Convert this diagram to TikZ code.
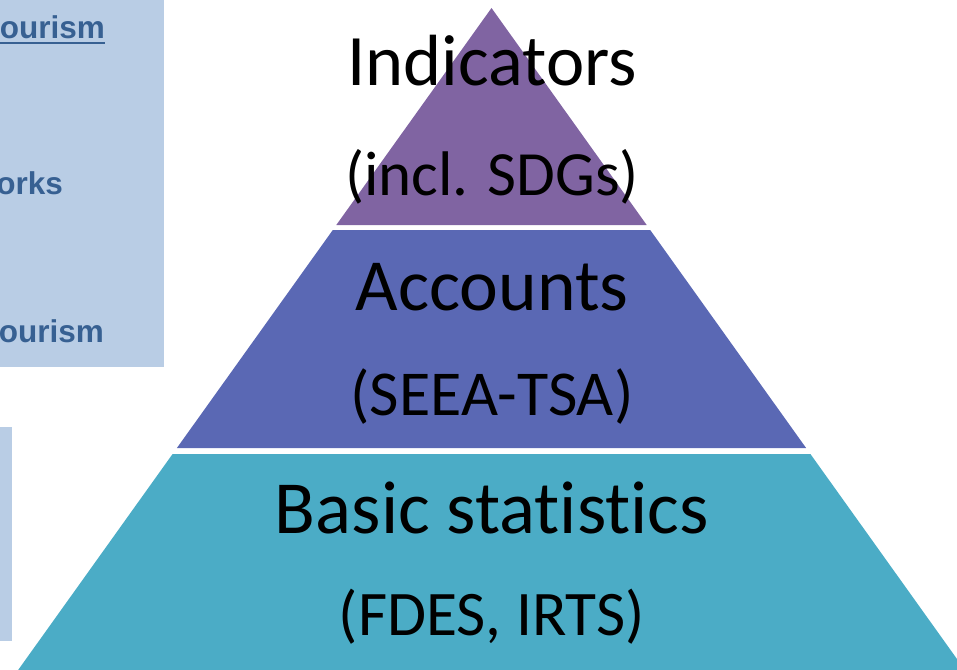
\documentclass[tikz,border=0pt]{standalone}
\usepackage{fontspec}
\setmainfont{Carlito}[Ligatures=CommonOff,RawFeature={-liga;-clig;-dlig}]
\newfontfamily\arialfont{Liberation Sans}
\definecolor{lightbox}{HTML}{B9CDE5}
\definecolor{boxtext}{HTML}{376092}
\definecolor{tierA}{HTML}{8064A2}
\definecolor{tierB}{HTML}{5A68B4}
\definecolor{tierC}{HTML}{4BACC6}
\tikzset{
  sidetext/.style={inner sep=0pt, anchor=base east, text=boxtext, font=\arialfont\bfseries\fontsize{31.5}{31.5}\selectfont},
  headtext/.style={inner sep=0pt, anchor=base, text=black},
}
\begin{document}
\begin{tikzpicture}[x=1pt,y=-1pt]
\useasboundingbox (0,0) rectangle (957,669);
\clip (0,0) rectangle (957,669);
% side panels
\fill[lightbox] (0,0) rectangle (164,367);
\fill[lightbox] (0,427) rectangle (12,641);
\node[sidetext] (s1) at (105,39) {ourism};
\draw[boxtext, line width=2pt] ([yshift=-4pt]s1.base west) -- ([yshift=-4pt]s1.base east);
\node[sidetext] (s2) at (63,194) {orks};
\node[sidetext] (s3) at (104,342) {ourism};
% pyramid tiers
\fill[tierA] (491.5,8) -- (646.7,225) -- (336.3,225) -- cycle;
\fill[tierB] (332.8,230) -- (650.2,230) -- (806.1,448) -- (176.9,448) -- cycle;
\fill[tierC] (172.6,454) -- (810.4,454) -- (972,680) -- (11,680) -- cycle;
% labels
\node[headtext, font=\fontsize{72.5}{72.5}\selectfont] (l1) at (492,85) {Indicators};
\node[headtext, font=\fontsize{63}{63}\selectfont] (l2) at (492,195) {(incl. SDGs)};
\node[headtext, font=\fontsize{73.5}{73.5}\selectfont] (l3) at (492,310) {Accounts};
\node[headtext, font=\fontsize{64}{64}\selectfont] (l4) at (492,415) {(SEEA-TSA)};
\node[headtext, font=\fontsize{75}{75}\selectfont] (l5) at (492,533) {Basic statistics};
\node[headtext, font=\fontsize{63.5}{63.5}\selectfont] (l6) at (492,635) {(FDES, IRTS)};
\end{tikzpicture}
\end{document}
